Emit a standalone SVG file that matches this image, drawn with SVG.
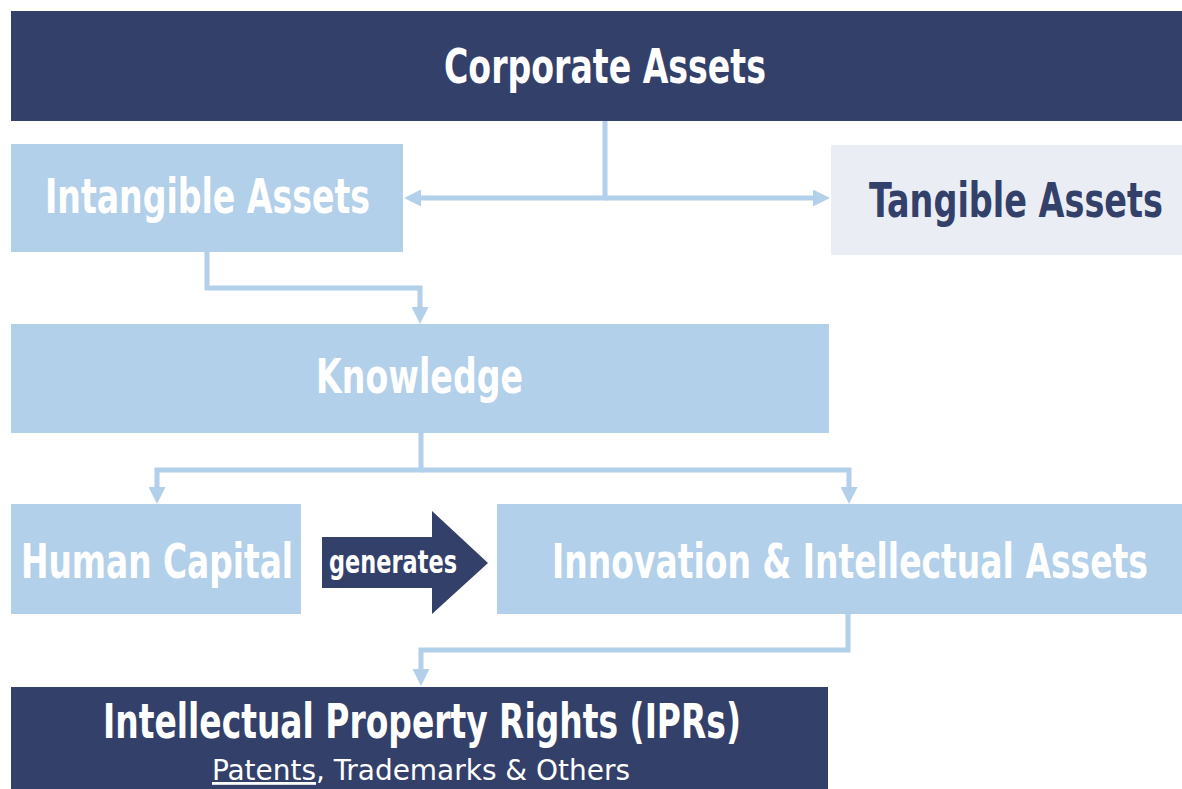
<svg xmlns="http://www.w3.org/2000/svg" width="1182" height="789" viewBox="0 0 1182 789">
  <defs>
    <style>
      .dark { fill: #33406a; }
      .light { fill: #b3d0ea; }
      .pale { fill: #eaeef4; }
      .t { font-family: "Liberation Sans Narrow", "DejaVu Sans Condensed", "Liberation Sans", sans-serif; font-weight: bold; font-stretch: condensed; font-size: 48px; }
      .g { font-size: 32px; }
      .w { fill: #ffffff; }
      .d { fill: #33406a; }
      .sub { font-family: "Liberation Sans Narrow", "DejaVu Sans Condensed", "Liberation Sans", sans-serif; font-weight: normal; font-size: 28px; fill: #ffffff; }
      .conn { fill: none; stroke: #b3d0ea; stroke-width: 5; stroke-linejoin: miter; marker-end: url(#ah); }
    </style>
    <marker id="ah" markerUnits="userSpaceOnUse" markerWidth="17" markerHeight="17" refX="2" refY="8.5" orient="auto" viewBox="0 0 17 17">
      <path d="M0,0 L17,8.5 L0,17 Z" fill="#b3d0ea"/>
    </marker>
  </defs>
  <rect width="1182" height="789" fill="#ffffff"/>

  <g id="connectors">
    <path class="conn" d="M605,121 V198 H419"/>
    <path class="conn" d="M605,198 H815"/>
    <path class="conn" d="M207,252 V288 H420 V309"/>
    <path class="conn" d="M421,433 V470 H157 V489"/>
    <path class="conn" d="M421,470 H849 V489"/>
    <path class="conn" d="M848,614 V650 H421 V671"/>
  </g>

  <g id="corporate-assets">
    <rect class="dark" x="11" y="11" width="1171" height="110"/>
    <text class="t w" transform="translate(444,83) scale(0.765,1)" textLength="420.9" lengthAdjust="spacingAndGlyphs">Corporate Assets</text>
  </g>

  <g id="intangible-assets">
    <rect class="light" x="11" y="144" width="392" height="108"/>
    <text class="t w" transform="translate(45,213) scale(0.765,1)" textLength="424.8" lengthAdjust="spacingAndGlyphs">Intangible Assets</text>
  </g>

  <g id="tangible-assets">
    <rect class="pale" x="831" y="145" width="351" height="110"/>
    <text class="t d" transform="translate(869,217) scale(0.765,1)" textLength="384.3" lengthAdjust="spacingAndGlyphs">Tangible Assets</text>
  </g>

  <g id="knowledge">
    <rect class="light" x="11" y="324" width="818" height="109"/>
    <text class="t w" transform="translate(316,393) scale(0.765,1)" textLength="270.6" lengthAdjust="spacingAndGlyphs">Knowledge</text>
  </g>

  <g id="human-capital">
    <rect class="light" x="11" y="504" width="290" height="110"/>
    <text class="t w" transform="translate(21,578) scale(0.765,1)" textLength="355.6" lengthAdjust="spacingAndGlyphs">Human Capital</text>
  </g>

  <g id="generates">
    <polygon class="dark" points="322,537 432,537 432,511 488,563 432,614 432,588 322,588"/>
    <text class="t g w" transform="translate(329,573) scale(0.78,1)" textLength="164.1" lengthAdjust="spacingAndGlyphs">generates</text>
  </g>

  <g id="innovation-intellectual-assets">
    <rect class="light" x="497" y="504" width="685" height="110"/>
    <text class="t w" transform="translate(552,578) scale(0.765,1)" textLength="779.1" lengthAdjust="spacingAndGlyphs">Innovation &amp; Intellectual Assets</text>
  </g>

  <g id="iprs">
    <rect class="dark" x="11" y="687" width="817" height="102"/>
    <text class="t w" transform="translate(103,738) scale(0.765,1)" textLength="834" lengthAdjust="spacingAndGlyphs">Intellectual Property Rights (IPRs)</text>
    <text class="sub" x="212" y="780" textLength="418" lengthAdjust="spacingAndGlyphs"><tspan text-decoration="underline">Patents</tspan>, Trademarks &amp; Others</text>
  </g>
</svg>
